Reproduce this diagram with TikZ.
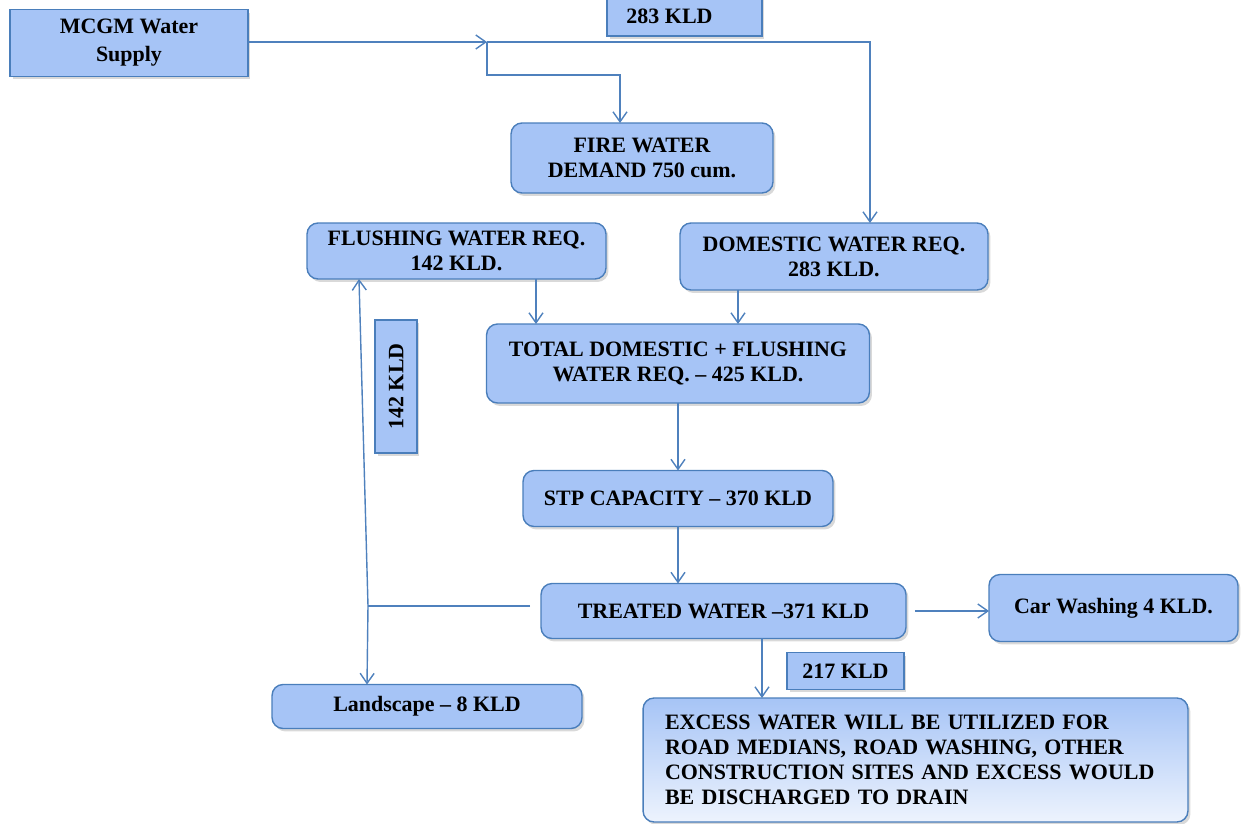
\documentclass[tikz,border=0pt]{standalone}
\usepackage{fontspec}
\setmainfont{Liberation Serif}
\usepackage{tikz}
\usetikzlibrary{arrows.meta,positioning}
\usetikzlibrary{shadows}
\definecolor{boxfill}{HTML}{A6C4F6}
\definecolor{boxline}{HTML}{4A7EBB}
\definecolor{flowline}{HTML}{4F81BD}

\begin{document}
\begin{tikzpicture}[x=.02cm,y=-.02cm]%
                    \clip (0,0) rectangle (1242,824); %%
                    \begin{scope}
                        \tikzstyle{every node}=[draw=boxline,line width=.8pt,fill=boxfill,inner sep=0pt,outer sep=0pt,align=center,font=\fontsize{12.5}{14.2}\selectfont\bfseries,drop shadow={opacity=.3,shadow xshift=.5mm,shadow yshift=-.6mm}];%%
                        \tikzstyle{rbox}=[rounded corners=.22cm];%%
                        \node (mcgm) at (129,43) [minimum width=4.76cm,minimum height=1.34cm,font=\fontsize{12.5}{16}\selectfont\bfseries] {MCGM Water\\Supply}; %%
                        \node (dom283) at (684.5,16) [minimum width=3.1cm,minimum height=.8cm] {283 KLD\hspace{.6cm}}; %%
                        \node (fire) at (642,158) [rbox,minimum width=5.24cm,minimum height=1.4cm] {FIRE WATER\\DEMAND 750 cum.}; %%
                        \node (flush) at (456.5,251) [rbox,minimum width=5.98cm,minimum height=1.12cm] {FLUSHING WATER REQ.\\142 KLD.}; %%
                        \node (dom) at (834,256.5) [rbox,minimum width=6.16cm,minimum height=1.34cm] {DOMESTIC WATER REQ.\\283 KLD.}; %%
                        \node (total) at (678,363.5) [rbox,minimum width=7.66cm,minimum height=1.58cm] {TOTAL DOMESTIC + FLUSHING\\WATER REQ. -- 425 KLD.}; %%
                        \node (flush142) at (396,386.5) [rotate=90,minimum width=2.66cm,minimum height=.84cm] {142 KLD}; %%
                        \node (stp) at (678,498.5) [rbox,minimum width=6.2cm,minimum height=1.12cm] {STP CAPACITY -- 370 KLD}; %%
                        \node (treat) at (723.5,611) [rbox,minimum width=7.3cm,minimum height=1.1cm] {TREATED WATER --371 KLD}; %%
                        \node (car) at (1113.5,608) [rbox,minimum width=4.98cm,minimum height=1.34cm] {Car Washing 4 KLD.}; %%
                        \node (land) at (427,706.5) [rbox,minimum width=6.2cm,minimum height=.88cm] {Landscape -- 8 KLD}; %%
                        \node (ex217) at (845.5,671) [minimum width=2.34cm,minimum height=.74cm] {217 KLD}; %%
                        \node (excess) at (915.5,760) [rbox,minimum width=10.9cm,minimum height=2.48cm,top color=boxfill,middle color=boxfill!95!white,bottom color=boxfill!20!white,text width=10.02cm,align=left] {EXCESS WATER WILL BE UTILIZED FOR\\ROAD MEDIANS, ROAD WASHING, OTHER\\CONSTRUCTION SITES AND EXCESS WOULD\\BE DISCHARGED TO DRAIN}; %%
                    \end{scope}
                        \tikzstyle{flow}=[draw=flowline,line width=.8pt,-{Straight Barb[length=2mm,width=2.8mm]}];%%
                        \tikzstyle{pipe}=[draw=flowline,line width=.8pt];%%
                        \coordinate (split) at (487,42); %%
                        \coordinate (bend) at (870,42); %%
                        \coordinate (firebend) at (620,75); %%
                        \coordinate (tee) at (368,606); %%
                        \draw[flow] (mcgm.east |- split) -- (split); %%
                        \draw[flow] (split) -- (bend) -- (bend |- dom.north); %%
                        \draw[flow] (split) |- (firebend) -- (firebend |- fire.north); %%
                        \draw[flow] (flush.south -| 536,0) -- (total.north -| 536,0); %%
                        \draw[flow] (dom.south -| 738,0) -- (total.north -| 738,0); %%
                        \draw[flow] (total.south) -- (stp.north); %%
                        \draw[flow] (stp.south) -- (stp.south |- treat.north); %%
                        \draw[pipe,shorten <=.22cm] (treat.west |- tee) -- (tee); %%
                        \draw[flow] (tee) -- (flush.south -| 359,0); %%
                        \draw[flow] (tee) -- (land.north -| 367,0); %%
                        \draw[flow,shorten <=.18cm] (treat.east) -- (car.west |- treat.east); %%
                        \draw[flow] (treat.south -| 762,0) -- (excess.north -| 762,0); %%
                    \end{tikzpicture}
\end{document}
